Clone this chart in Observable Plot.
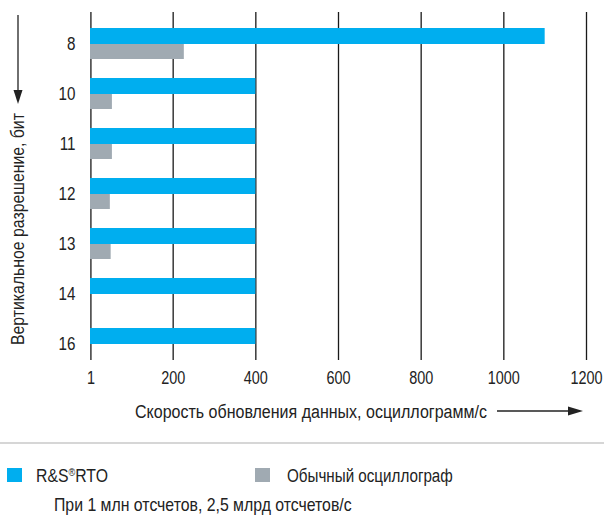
<!DOCTYPE html>
<html><head><meta charset="utf-8">
<script src="https://cdn.jsdelivr.net/npm/d3@7"></script>
<script src="https://cdn.jsdelivr.net/npm/@observablehq/plot@0.6"></script>
<style>
body{margin:0;background:#fff;font-family:"Liberation Sans",Arial,sans-serif;color:#222;}
#wrap{width:604px;}
svg{display:block;}
</style></head><body>
<div id="wrap"></div>
<script>
const categories = ["8","10","11","12","13","14","16"];
const rtoValues = [1100,400,400,400,400,400,400];
const convValues = [227,53,53,48,50,0,0];
const xTicks = [1,200,400,600,800,1000,1200];
const seriesNames = ["R&S", "®", "RTO", "Обычный осциллограф"];
const colors = ["#00aeef","#a0aab2"];
const xLabel = "Скорость обновления данных, осциллограмм/с";
const yLabel = "Вертикальное разрешение, бит";
const caption = "При 1 млн отсчетов, 2,5 млрд отсчетов/с";
const FONT = '"Liberation Sans",Arial,sans-serif';

const rto = categories.map((c,i)=>({cat:c,v:rtoValues[i]}));
const conv = categories.map((c,i)=>({cat:c,v:convValues[i]})).filter(d=>d.v>0);

const chart = Plot.plot({
  width:604, height:432,
  marginTop:12, marginBottom:72, marginLeft:90, marginRight:18,
  style:{fontFamily:FONT,fontSize:"19px",color:"#222"},
  x:{domain:[0,1200], ticks:xTicks, tickSize:0, tickPadding:10, label:null, tickFormat:d=>String(d)},
  y:{type:"band", domain:categories, range:[25,361], paddingInner:0.39, paddingOuter:0, tickSize:0, tickPadding:15, label:null},
  marks:[
    Plot.ruleX(xTicks,{stroke:"#1a1a1a",strokeWidth:1.3}),
    Plot.barX(rto,{x:"v",y:"cat",fill:colors[0],insetBottom:15}),
    Plot.barX(conv,{x:"v",y:"cat",fill:colors[1],insetTop:16})
  ]
});
const svg = d3.select(chart);
const pending = [];
// text placed at (x,y), squeezed horizontally to a target width (condensed face look)
function place(parent, str, x, y, size, target, rot){
  const t = parent.append("text").attr("font-size",size).attr("fill","#222").attr("text-anchor","start");
  if (typeof str === "string") t.text(str); else str(t);
  pending.push({t, x, y, target, rot});
  return t;
}
function finalize(){
  pending.forEach(({t,x,y,target,rot})=>{
    const w = t.node().getComputedTextLength();
    const k = w>0 ? target/w : 1;
    t.attr("transform",`translate(${x},${y})${rot?` rotate(${rot})`:""} scale(${k.toFixed(3)},1)`);
  });
}
// x label + arrow
place(svg, xLabel, 135, 418, 19, 352);
svg.append("line").attr("x1",497).attr("x2",570).attr("y1",411).attr("y2",411).attr("stroke","#222").attr("stroke-width",1.3);
svg.append("path").attr("d","M568,406.5 L583,411 L568,415.5 Z").attr("fill","#222");
// y label + arrow
place(svg, yLabel, 24, 345, 19, 232, -90);
svg.append("line").attr("x1",18).attr("x2",18).attr("y1",15).attr("y2",92).attr("stroke","#222").attr("stroke-width",1.3);
svg.append("path").attr("d","M13.5,90 L18,104 L22.5,90 Z").attr("fill","#222");

const wrap = document.getElementById("wrap");
wrap.appendChild(chart);

// condense tick labels by appending a horizontal scale to their own transform
function squeezeTicks(sel, k){
  chart.querySelectorAll(sel).forEach(t=>{
    const tr = t.getAttribute("transform") || "";
    t.setAttribute("transform", `${tr} scale(${k},1)`);
  });
}
squeezeTicks('g[aria-label="x-axis tick label"] text', 0.76);
squeezeTicks('g[aria-label="y-axis tick label"] text', 0.8);

// legend + caption
const leg = d3.create("svg").attr("width",604).attr("height",83)
  .attr("font-family",FONT).attr("fill","#222");
leg.append("rect").attr("x",0).attr("y",10).attr("width",604).attr("height",2).attr("fill","#d6d6d6");
leg.append("rect").attr("x",7).attr("y",36).attr("width",15).attr("height",14).attr("fill",colors[0]);
place(leg, t=>{
  t.append("tspan").text(seriesNames[0]);
  t.append("tspan").attr("font-size",11).attr("dy",-6).text(seriesNames[1]);
  t.append("tspan").attr("dy",6).text(seriesNames[2]);
}, 36, 50, 19, 72);
leg.append("rect").attr("x",255).attr("y",36).attr("width",15).attr("height",14).attr("fill",colors[1]);
place(leg, seriesNames[3], 287, 50, 19, 166);
place(leg, caption, 54, 79, 18, 298);
wrap.appendChild(leg.node());
finalize();
</script></body></html>
